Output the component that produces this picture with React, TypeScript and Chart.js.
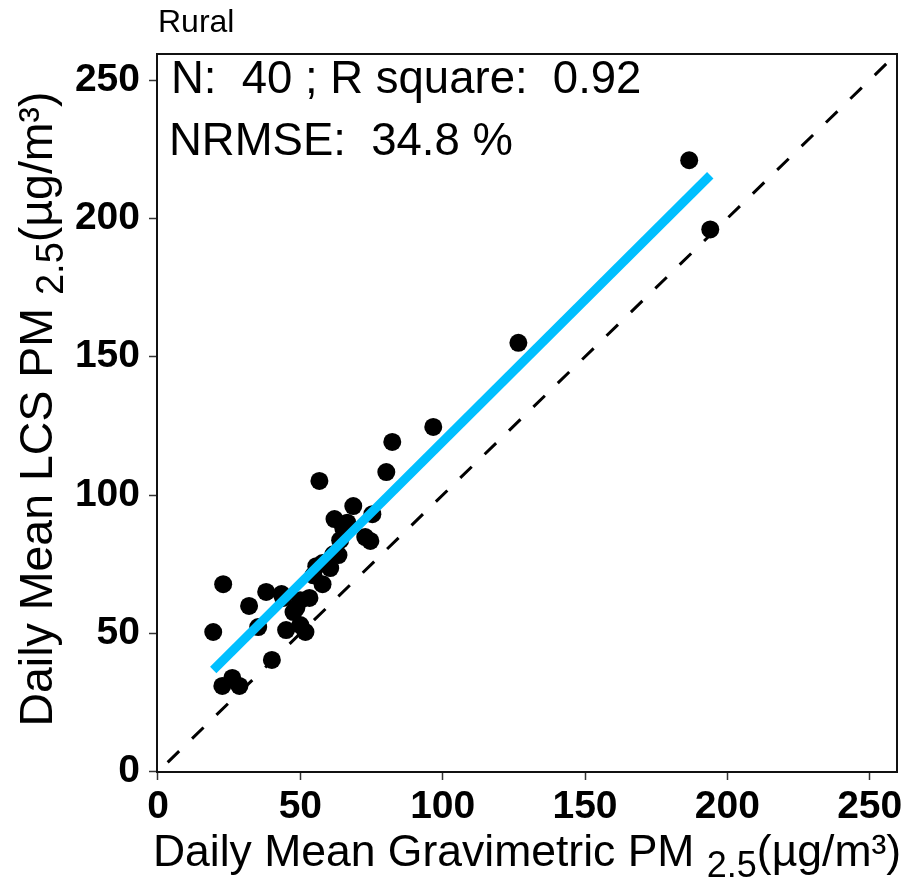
import React, { useEffect, useRef } from "react";
import { Chart, registerables } from "chart.js";

Chart.register(...registerables);

// ---- data ----
const gravimetricPM = [
  19.4, 22.9, 22.6, 26.1, 28.6, 32.0, 35.2, 38.0, 40.0, 45.0,
  44.0, 48.6, 51.8, 50.0, 53.2, 55.6, 60.5, 56.7, 54.6, 57.8,
  62.0, 64.0, 63.4, 65.1, 68.6, 72.8, 74.6, 75.3, 80.2, 82.3,
  96.7, 126.6, 186.6, 194.0, 43.4, 47.6, 57.8, 61.6, 50.0, 66.5,
];
const lcsPM = [
  50.5, 67.8, 31.0, 33.9, 31.0, 59.9, 52.3, 65.0, 40.4, 51.2,
  62.8, 59.2, 50.5, 62.0, 62.8, 74.3, 73.6, 105.1, 71.0, 67.8,
  91.3, 83.7, 78.3, 88.0, 96.0, 84.8, 83.4, 93.1, 108.3, 119.2,
  124.6, 155.0, 221.0, 196.0, 64.2, 57.7, 75.4, 78.6, 53.0, 90.0,
];
const tickValues = [0, 50, 100, 150, 200, 250];
const identityRange = [0, 260];
const fitIntercept = 16.9;
const fitSlope = 1.024;

const panelTitle = "Rural";
const sampleCount = 40;
const rSquare = 0.92;
const nrmse = 34.8;
const xTitleParts = ["Daily Mean Gravimetric PM ", "2.5", "(µg/m³)"];
const yTitleParts = ["Daily Mean LCS PM ", "2.5", "(µg/m³)"];

const FONT = "'Liberation Sans', Arial, Helvetica, sans-serif";

type Part = { t: string; size: number; dy: number };

function drawRich(ctx: CanvasRenderingContext2D, parts: Part[], cx: number) {
  let total = 0;
  const widths = parts.map((p) => {
    ctx.font = `${p.size}px ${FONT}`;
    const w = ctx.measureText(p.t).width;
    total += w;
    return w;
  });
  let x = cx - total / 2;
  parts.forEach((p, i) => {
    ctx.font = `${p.size}px ${FONT}`;
    ctx.fillText(p.t, x, p.dy);
    x += widths[i];
  });
}

const decorPlugin = {
  id: "decor",
  beforeDraw(chart: any) {
    const ctx = chart.ctx as CanvasRenderingContext2D;
    ctx.save();
    ctx.fillStyle = "#ffffff";
    ctx.fillRect(0, 0, chart.width, chart.height);
    ctx.restore();
  },
  afterDraw(chart: any) {
    const ctx = chart.ctx as CanvasRenderingContext2D;
    const a = chart.chartArea;
    ctx.save();
    // panel border
    ctx.strokeStyle = "#111";
    ctx.lineWidth = 2;
    ctx.strokeRect(a.left, a.top, a.right - a.left, a.bottom - a.top);

    ctx.fillStyle = "#000";
    ctx.textBaseline = "alphabetic";
    ctx.textAlign = "left";
    // panel title
    ctx.font = `32px ${FONT}`;
    ctx.fillText(panelTitle, 158, 32);

    // annotations
    ctx.font = `45.5px ${FONT}`;
    ctx.fillText(`N:  ${sampleCount} ; R square:  ${rSquare.toFixed(2)}`, a.left + 14, 93);
    ctx.fillText(`NRMSE:  ${nrmse.toFixed(1)} %`, a.left + 12, 155);

    // x title
    const cxX = (a.left + a.right) / 2;
    ctx.save();
    ctx.translate(0, 866);
    drawRich(
      ctx,
      [
        { t: xTitleParts[0], size: 44.5, dy: 0 },
        { t: xTitleParts[1], size: 36, dy: 11 },
        { t: xTitleParts[2], size: 44.5, dy: 0 },
      ],
      cxX
    );
    ctx.restore();

    // y title
    const cyY = (a.top + a.bottom) / 2 - 4;
    ctx.save();
    ctx.translate(52, cyY);
    ctx.rotate(-Math.PI / 2);
    drawRich(
      ctx,
      [
        { t: yTitleParts[0], size: 46.5, dy: 0 },
        { t: yTitleParts[1], size: 38, dy: 11 },
        { t: yTitleParts[2], size: 46.5, dy: 0 },
      ],
      0
    );
    ctx.restore();

    ctx.restore();
  },
};

export default function App() {
  const ref = useRef<HTMLCanvasElement | null>(null);

  useEffect(() => {
    if (!ref.current) return;
    const xMin = Math.min(...gravimetricPM);
    const xMax = Math.max(...gravimetricPM);
    const fitXs = [xMin, xMax];
    const points = gravimetricPM.map((x, i) => ({ x, y: lcsPM[i] }));

    const axisCommon = (fitSize: (s: any) => void, pad: number) => ({
      type: "linear" as const,
      afterBuildTicks: (s: any) => {
        s.ticks = tickValues.map((v) => ({ value: v }));
      },
      afterFit: fitSize,
      grid: {
        drawOnChartArea: false,
        drawTicks: true,
        tickLength: 8,
        tickColor: "#333",
        tickWidth: 1.5,
      },
      border: { display: false },
      ticks: {
        color: "#000",
        font: { family: FONT, size: 39, weight: "bold" as const },
        padding: pad,
      },
    });

    const chart = new Chart(ref.current, {
      type: "scatter",
      data: {
        datasets: [
          {
            label: "fit",
            data: fitXs.map((x) => ({ x, y: fitIntercept + fitSlope * x })),
            showLine: true,
            borderColor: "#00BFFF",
            borderWidth: 9,
            pointRadius: 0,
            order: 0,
          },
          {
            label: "obs",
            data: points,
            pointRadius: 9,
            pointHoverRadius: 9,
            backgroundColor: "#000",
            borderWidth: 0,
            order: 1,
          },
          {
            label: "1:1",
            data: identityRange.map((v) => ({ x: v, y: v })),
            showLine: true,
            borderColor: "#000",
            borderWidth: 3,
            borderDash: [16, 18],
            borderDashOffset: 20.5,
            pointRadius: 0,
            order: 2,
          },
        ],
      },
      options: {
        animation: false,
        responsive: false,
        devicePixelRatio: 1,
        layout: { padding: { top: 54, right: 11, left: 0, bottom: 0 } },
        plugins: { legend: { display: false }, tooltip: { enabled: false } },
        scales: {
          x: {
            ...axisCommon((s: any) => {
              s.height = 108;
            }, 4),
            min: -0.35,
            max: 259.6,
          },
          y: {
            ...axisCommon((s: any) => {
              s.width = 157;
            }, 9),
            min: -0.1,
            max: 259.4,
          },
        },
      },
      plugins: [decorPlugin],
    });
    return () => chart.destroy();
  }, []);

  return (
    <div style={{ position: "absolute", left: 0, top: 0, width: 908, height: 880 }}>
      <canvas ref={ref} width={908} height={880} style={{ width: 908, height: 880, display: "block" }} />
    </div>
  );
}
